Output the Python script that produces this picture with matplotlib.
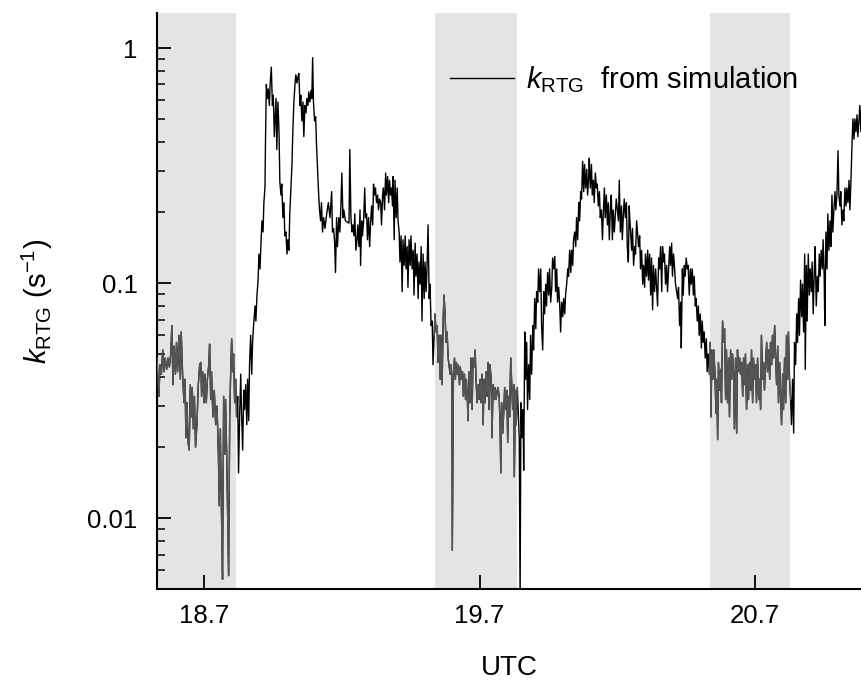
import numpy as np
import matplotlib
matplotlib.use("Agg")
import matplotlib.pyplot as plt
from matplotlib.ticker import LogLocator, NullFormatter, NullLocator

plt.rcParams['font.family'] = ['Liberation Sans', 'DejaVu Sans']
plt.rcParams['mathtext.fontset'] = 'custom'
plt.rcParams['mathtext.rm'] = 'Liberation Sans'
plt.rcParams['mathtext.it'] = 'Liberation Sans:italic'

# ---------------- data ----------------
utc = [
 18.529,18.533,18.536,18.540,18.545,18.550,18.554,18.559,18.564,18.569,
 18.574,18.579,18.583,18.587,18.591,18.596,18.600,18.604,18.609,18.614,
 18.617,18.622,18.627,18.631,18.634,18.638,18.642,18.646,18.650,18.654,
 18.657,18.661,18.665,18.669,18.674,18.679,18.684,18.688,18.691,18.695,
 18.700,18.703,18.708,18.712,18.717,18.720,18.724,18.727,18.732,18.737,
 18.742,18.747,18.752,18.755,18.759,18.764,18.767,18.771,18.775,18.778,
 18.782,18.786,18.789,18.793,18.796,18.800,18.804,18.807,18.811,18.815,
 18.818,18.822,18.825,18.829,18.833,18.836,18.840,18.844,18.847,18.851,
 18.855,18.858,18.862,18.865,18.869,18.873,18.876,18.880,18.885,18.888,
 18.892,18.896,18.899,18.903,18.907,18.910,18.914,18.917,18.921,18.923,
 18.926,18.930,18.933,18.937,18.940,18.944,18.948,18.951,18.955,
 18.961,18.964,18.968,18.972,18.975,18.979,18.982,18.986,18.990,18.993,
 18.997,19.001,19.004,19.008,19.011,19.015,19.019,19.022,19.026,19.030,
 19.033,19.037,19.040,19.044,19.048,19.051,19.055,19.059,19.062,19.066,
 19.070,19.073,19.077,19.080,19.084,19.088,19.091,19.094,19.097,19.101,
 19.105,19.108,19.112,19.116,19.119,19.123,19.126,19.130,19.134,19.139,
 19.145,19.151,19.157,19.163,19.166,19.170,19.174,19.177,19.181,19.184,
 19.189,19.193,19.197,19.200,19.204,19.207,19.213,19.220,19.226,19.229,
 19.233,19.237,19.240,19.244,19.247,19.251,19.255,19.258,19.262,19.266,
 19.268,19.272,19.275,19.279,19.283,19.286,19.290,19.293,19.297,19.301,
 19.304,19.308,19.312,19.315,19.319,19.322,19.326,19.330,19.333,19.337,
 19.341,19.344,19.348,19.351,19.355,19.359,19.362,19.366,19.370,19.373,
 19.377,19.380,19.384,
 19.386,19.390,19.393,19.397,19.401,19.404,19.408,19.411,19.415,19.419,
 19.422,19.426,19.430,19.433,19.437,19.440,19.444,19.448,19.451,19.455,
 19.459,19.462,19.466,19.469,19.473,19.477,19.480,19.484,19.488,19.491,
 19.495,19.499,19.502,19.506,19.509,19.513,19.517,19.520,19.524,19.528,
 19.531,19.535,19.538,19.542,19.546,19.549,19.553,19.557,19.560,19.564,
 19.568,19.571,19.575,19.578,19.582,19.586,19.589,19.593,19.597,19.599,
 19.601,19.605,19.609,19.612,19.616,19.620,19.623,19.627,19.630,19.634,
 19.638,19.641,19.645,19.649,19.652,19.656,19.658,19.662,19.665,19.669,
 19.673,19.676,19.680,19.684,19.687,19.691,19.695,19.698,19.702,19.705,
 19.709,19.713,19.716,19.720,19.724,19.727,19.731,19.734,19.738,19.742,
 19.745,19.749,19.753,19.756,19.760,19.764,19.767,19.771,19.774,19.777,
 19.780,19.784,19.788,19.791,19.795,19.799,19.802,19.806,19.809,19.813,
 19.816,19.820,19.824,19.826,19.830,19.833,19.837,19.841,19.844,19.847,
 19.850,19.854,19.858,19.860,19.864,19.867,19.871,19.874,19.878,19.882,
 19.885,19.889,19.893,19.896,19.900,19.904,19.907,19.911,19.914,19.918,
 19.922,19.925,19.929,19.933,19.936,19.940,19.943,19.947,19.951,19.954,
 19.958,19.962,19.965,19.969,19.973,19.976,19.980,19.983,19.987,19.991,
 19.994,19.998,20.002,20.005,20.009,20.012,20.016,20.020,20.023,20.027,
 20.031,20.034,20.038,20.041,20.045,20.049,20.052,20.056,20.060,20.063,
 20.067,20.070,20.074,20.078,20.081,20.085,20.089,20.092,20.096,20.098,
 20.102,20.106,20.109,20.113,20.116,20.120,20.124,20.127,20.131,20.135,
 20.138,20.142,20.146,20.149,20.153,20.156,20.160,20.164,20.167,20.171,
 20.175,20.178,20.182,20.185,20.189,20.193,20.196,20.200,20.204,20.207,
 20.211,20.215,20.218,20.222,20.225,20.229,20.233,20.236,20.240,20.243,
 20.245,20.248,20.252,20.255,20.259,20.263,20.266,20.270,20.273,20.277,
 20.281,20.284,20.288,20.292,20.295,20.299,20.302,20.306,20.310,20.313,
 20.317,20.321,20.324,20.328,20.331,20.335,20.339,20.342,20.346,20.350,
 20.353,20.357,20.361,20.364,20.368,20.371,20.375,20.379,20.382,20.386,
 20.390,20.393,20.397,20.400,20.404,20.408,20.411,20.415,20.419,20.422,
 20.426,20.430,20.432,20.436,20.439,20.443,20.446,20.450,20.454,20.457,
 20.461,20.465,20.468,20.472,20.476,20.479,20.483,20.486,20.490,20.494,
 20.497,20.501,20.505,20.508,20.512,20.515,20.519,20.523,20.526,20.530,
 20.534,20.537,20.540,20.543,20.547,20.550,20.554,20.558,20.561,20.564,
 20.567,20.571,20.575,20.578,20.582,20.586,20.589,20.593,20.596,20.600,
 20.604,20.607,20.611,20.615,20.618,20.622,20.625,20.629,20.633,20.636,
 20.640,20.644,20.647,20.651,20.655,20.658,20.662,
 20.665,20.669,20.673,20.676,20.680,20.684,20.687,20.691,20.694,20.698,
 20.702,20.705,20.709,20.713,20.716,20.720,20.723,20.727,20.731,20.734,
 20.738,20.742,20.745,20.749,20.753,20.756,20.760,20.763,20.767,20.771,
 20.774,20.778,20.782,20.785,20.789,20.792,20.796,20.800,20.803,20.807,
 20.811,20.814,20.818,20.821,20.825,20.829,20.832,20.836,20.840,20.843,
 20.847,20.851,20.854,20.858,20.861,20.865,20.869,20.872,20.876,20.880,
 20.882,20.886,20.889,20.893,20.897,20.900,20.904,20.907,20.911,20.915,
 20.918,20.922,20.926,20.929,20.933,20.936,20.940,20.944,20.947,20.951,
 20.953,20.957,20.961,20.964,20.968,20.972,20.975,20.979,20.982,20.986,
 20.990,20.993,20.997,21.001,21.004,21.008,21.011,21.015,21.019,21.022,
 21.026,21.030,21.033,21.037,21.041,21.044,21.048,21.051,21.055,21.059,
 21.062,21.066,21.070,21.073,21.077,21.080,21.084,21.088,21.091,21.095,
]

k_rtg = [
 0.048,0.039,0.033,0.045,0.041,0.052,0.042,0.048,0.043,0.048,
 0.044,0.050,0.066,0.037,0.054,0.041,0.056,0.042,0.060,0.039,
 0.062,0.041,0.031,0.039,0.022,0.031,0.021,0.0195,0.037,0.027,
 0.036,0.024,0.033,0.020,0.025,0.037,0.045,0.046,0.033,0.042,
 0.031,0.041,0.031,0.039,0.045,0.055,0.032,0.042,0.027,0.035,
 0.025,0.030,0.0187,0.0113,0.024,0.009,0.0055,0.033,0.0187,0.032,
 0.0187,0.0098,0.0057,0.027,0.039,0.058,0.042,0.050,0.031,0.039,
 0.027,0.033,0.0156,0.027,0.041,0.028,0.0195,0.035,0.029,0.037,
 0.025,0.039,0.026,0.045,0.060,0.041,0.056,0.067,0.080,0.069,
 0.089,0.103,0.133,0.115,0.153,0.184,0.165,0.22,0.254,0.41,
 0.70,0.61,0.67,0.57,0.71,0.83,0.57,0.63,0.42,
 0.61,0.37,0.59,0.44,0.27,0.237,0.264,0.19,0.22,0.159,
 0.165,0.133,0.153,0.138,0.197,0.254,0.32,0.44,0.59,0.70,
 0.77,0.71,0.75,0.78,0.57,0.63,0.49,0.59,0.42,0.57,
 0.53,0.61,0.57,0.65,0.59,0.66,0.61,0.91,0.59,0.49,
 0.51,0.39,0.305,0.237,0.205,0.184,0.22,0.165,0.19,0.171,
 0.197,0.22,0.19,0.245,0.165,0.171,0.148,0.111,0.19,0.143,
 0.19,0.165,0.22,0.294,0.19,0.205,0.184,0.182,0.18,0.37,
 0.19,0.165,0.177,0.159,0.197,0.138,0.153,0.177,0.143,0.205,
 0.119,0.184,0.159,0.184,0.254,0.19,0.197,0.153,0.19,0.143,
 0.177,0.213,0.177,0.264,0.237,0.254,0.22,0.237,0.205,0.228,
 0.22,0.177,0.237,0.254,0.205,0.294,0.237,0.284,0.22,0.274,
 0.237,0.254,0.213,
 0.284,0.153,0.274,0.19,0.254,0.184,0.165,0.123,0.159,0.092,
 0.153,0.119,0.159,0.115,0.143,0.096,0.153,0.119,0.159,0.115,
 0.138,0.089,0.148,0.107,0.133,0.086,0.123,0.099,0.143,0.069,
 0.133,0.086,0.123,0.092,0.115,0.177,0.086,0.099,0.066,0.069,
 0.045,0.060,0.074,0.062,0.066,0.046,0.060,0.039,0.060,0.037,
 0.072,0.089,0.072,0.056,0.062,0.048,0.045,0.041,0.045,0.039,
 0.0073,0.041,0.048,0.039,0.046,0.041,0.045,0.037,0.044,0.039,
 0.042,0.033,0.041,0.032,0.039,0.031,0.026,0.042,0.031,0.048,
 0.029,0.048,0.044,0.052,0.039,0.031,0.037,0.032,0.039,0.031,
 0.041,0.025,0.039,0.031,0.042,0.033,0.046,0.029,0.045,0.039,
 0.022,0.037,0.032,0.036,0.032,0.035,0.036,0.033,0.026,0.0156,
 0.031,0.023,0.029,0.036,0.029,0.035,0.021,0.033,0.027,0.048,
 0.039,0.029,0.037,0.015,0.035,0.025,0.036,0.027,0.0216,0.0044,
 0.031,0.022,0.029,0.016,0.062,0.039,0.056,0.029,0.045,0.032,
 0.060,0.041,0.066,0.052,0.086,0.064,0.092,0.083,0.115,0.092,
 0.115,0.066,0.052,0.092,0.074,0.099,0.080,0.111,0.089,0.115,
 0.083,0.096,0.128,0.115,0.13,0.092,0.115,0.083,0.096,0.080,
 0.062,0.083,0.072,0.086,0.074,0.089,0.099,0.115,0.107,0.138,
 0.111,0.138,0.119,0.153,0.165,0.143,0.19,0.153,0.22,0.184,
 0.245,0.228,0.33,0.245,0.32,0.254,0.305,0.237,0.284,0.34,
 0.254,0.32,0.237,0.274,0.22,0.294,0.254,0.264,0.213,0.245,
 0.19,0.205,0.153,0.197,0.254,0.19,0.237,0.177,0.22,0.153,
 0.213,0.237,0.153,0.205,0.165,0.197,0.228,0.205,0.184,0.274,
 0.165,0.213,0.153,0.197,0.228,0.19,0.22,0.143,0.123,0.213,
 0.19,0.165,0.138,0.171,0.119,0.143,0.133,0.184,0.165,0.143,
 0.159,0.115,0.138,0.099,0.119,0.096,0.133,0.107,0.138,0.103,
 0.133,0.089,0.128,0.077,0.119,0.092,0.115,0.099,0.080,0.128,
 0.115,0.143,0.092,0.143,0.123,0.133,0.099,0.119,0.092,0.115,
 0.143,0.119,0.148,0.107,0.133,0.115,0.099,0.092,0.086,0.096,
 0.066,0.083,0.053,0.115,0.089,0.119,0.107,0.128,0.115,0.119,
 0.089,0.115,0.099,0.115,0.089,0.107,0.080,0.086,0.069,0.080,
 0.060,0.074,0.053,0.069,0.056,0.062,0.048,0.058,0.042,0.050,
 0.041,0.056,0.027,0.052,0.039,0.052,0.042,0.028,0.039,0.0216,
 0.046,0.035,0.043,0.031,0.069,0.056,0.064,0.032,0.052,0.031,
 0.048,0.027,0.052,0.039,0.050,0.041,0.024,0.048,0.023,0.052,
 0.042,0.048,0.041,0.046,0.033,0.048,0.037,
 0.050,0.029,0.045,0.032,0.046,0.035,0.052,0.031,0.048,0.039,
 0.045,0.031,0.048,0.032,0.039,0.029,0.060,0.039,0.046,0.035,
 0.045,0.056,0.042,0.052,0.039,0.056,0.045,0.060,0.048,0.066,
 0.050,0.037,0.054,0.031,0.046,0.035,0.025,0.041,0.029,0.048,
 0.031,0.060,0.039,0.062,0.039,0.032,0.025,0.039,0.023,0.056,
 0.045,0.074,0.056,0.086,0.060,0.103,0.072,0.099,0.062,0.133,
 0.043,0.119,0.069,0.133,0.089,0.115,0.092,0.123,0.074,0.115,
 0.143,0.080,0.107,0.092,0.133,0.107,0.138,0.115,0.153,0.103,
 0.066,0.165,0.115,0.197,0.138,0.184,0.143,0.237,0.165,0.205,
 0.245,0.205,0.237,0.366,0.237,0.213,0.245,0.177,0.205,0.184,
 0.254,0.213,0.254,0.22,0.274,0.205,0.274,0.366,0.50,0.41,
 0.50,0.44,0.52,0.42,0.49,0.57,0.44,0.61,0.65,0.70,
]

# shaded (night) intervals, UTC
band_start = [18.40, 19.537, 20.537]
band_end = [18.816, 19.834, 20.827]

x_ticks = [18.7, 19.7, 20.7]
x_ticklabels = ['18.7', '19.7', '20.7']
y_ticks = [0.01, 0.1, 1]
y_ticklabels = ['0.01', '0.1', '1']

# ---------------- figure ----------------
fig = plt.figure(figsize=(8.62, 6.91), dpi=100)
ax = fig.add_axes([0.1821, 0.1476, 0.8179, 0.8336])

for s, e in zip(band_start, band_end):
    ax.axvspan(s, e, color='#e4e4e4', lw=0, zorder=0)

t = np.array(utc)
k = np.array(k_rtg)
line, = ax.plot(t, k, color='black', lw=1.0, zorder=2,
                label=r'$k_{\mathrm{RTG}}$  from simulation')
for s, e in zip(band_start, band_end):
    m = (t >= s) & (t <= e)
    idx = np.where(m)[0]
    if len(idx):
        i0 = max(idx[0] - 1, 0)
        i1 = min(idx[-1] + 2, len(t))
        ax.plot(t[i0:i1], k[i0:i1], color='#555555', lw=1.0, zorder=3)

ax.set_yscale('log')
ax.set_xlim(18.529, 21.088)
ax.set_ylim(0.005, 1.41)

ax.set_xticks(x_ticks)
ax.set_xticklabels(x_ticklabels)
ax.xaxis.set_minor_locator(NullLocator())
ax.set_yticks(y_ticks)
ax.set_yticklabels(y_ticklabels)
ax.yaxis.set_minor_locator(LogLocator(base=10, subs=np.arange(2, 10)))
ax.yaxis.set_minor_formatter(NullFormatter())

ax.tick_params(axis='both', which='major', direction='in', length=10,
               width=1.3, labelsize=18.5)
ax.tick_params(axis='y', which='major', pad=14)
ax.tick_params(axis='x', which='major', pad=11)
ax.tick_params(axis='y', which='minor', direction='in', length=6, width=1.1)

for sp in ['top', 'right']:
    ax.spines[sp].set_visible(False)
for sp in ['left', 'bottom']:
    ax.spines[sp].set_linewidth(1.5)

ax.set_xlabel('UTC', fontsize=20, labelpad=19)
ax.set_ylabel(r'$k_{\mathrm{RTG}}$ (s$^{-1}$)', fontsize=21, labelpad=23)

ax.legend(handles=[line], loc='center left', bbox_to_anchor=(0.4156, 0.8837),
          frameon=False, fontsize=21, borderpad=0, borderaxespad=0,
          handlelength=2.2, handletextpad=0.4)

fig.savefig('out.png', dpi=100)
